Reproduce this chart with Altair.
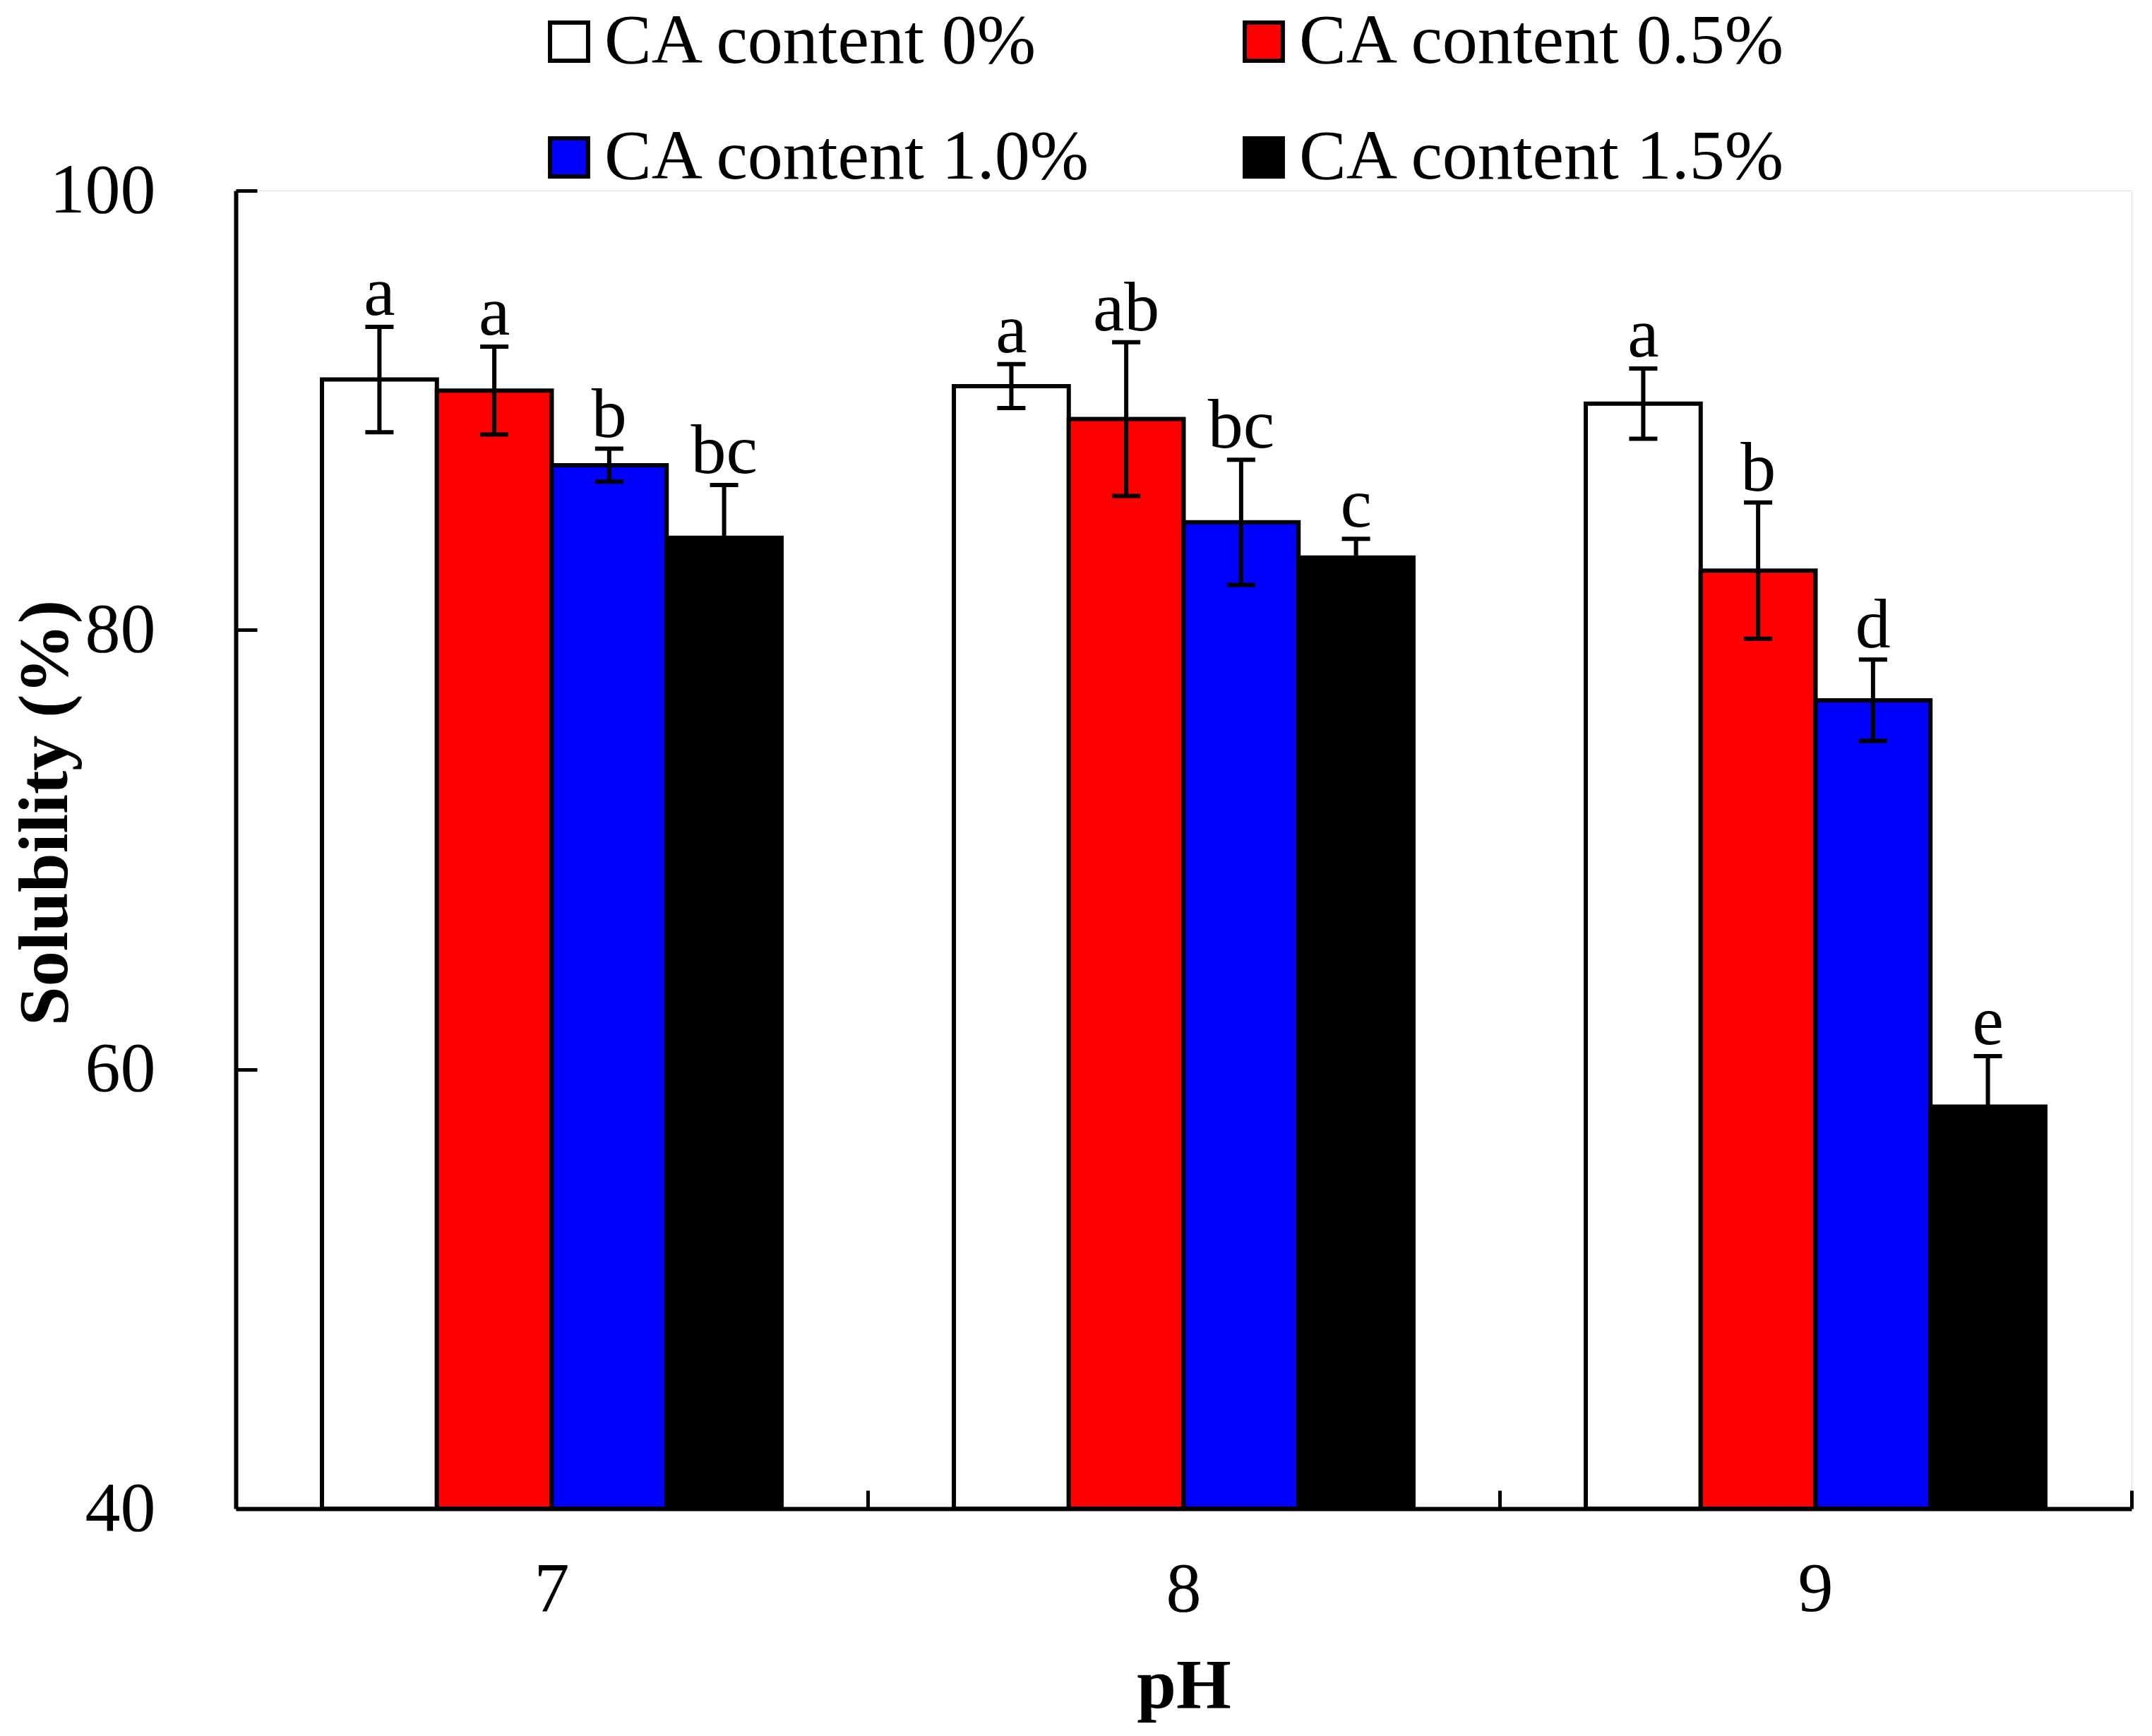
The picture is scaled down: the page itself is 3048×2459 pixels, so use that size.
import altair as alt
import pandas as pd

# data
ph_values = ["7", "8", "9"]
groups = ["CA content 0%", "CA content 0.5%", "CA content 1.0%", "CA content 1.5%"]
bar_colors = ["#ffffff", "#ff0000", "#0000ff", "#000000"]

mean_0 = [91.4, 91.1, 90.3]
mean_05 = [90.9, 89.6, 82.7]
mean_10 = [87.5, 84.9, 76.8]
mean_15 = [84.2, 83.3, 58.3]

sd_0 = [2.4, 1.0, 1.6]
sd_05 = [2.0, 3.5, 3.1]
sd_10 = [0.75, 2.85, 1.85]
sd_15 = [2.4, 0.85, 2.3]

letters_0 = ["a", "a", "a"]
letters_05 = ["a", "ab", "b"]
letters_10 = ["b", "bc", "d"]
letters_15 = ["bc", "c", "e"]

y_ticks = [40, 60, 80, 100]

means = [mean_0, mean_05, mean_10, mean_15]
sds = [sd_0, sd_05, sd_10, sd_15]
letters = [letters_0, letters_05, letters_10, letters_15]

rows = []
for g, m, s, l in zip(groups, means, sds, letters):
    for ph, mv, sv, lv in zip(ph_values, m, s, l):
        rows.append({"pH": ph, "group": g, "mean": mv, "sd": sv, "letter": lv,
                     "lo": mv - sv, "hi": mv + sv})
df = pd.DataFrame(rows)

W, H = 2685, 1867
FONT = "Liberation Serif"

x_scale = alt.Scale(paddingInner=0, paddingOuter=0)
off_scale = alt.Scale(paddingInner=0, paddingOuter=0.75)
y_scale = alt.Scale(domain=[40, 100], zero=False, nice=False)

base = alt.Chart(df)

bars = base.mark_bar(stroke="black", strokeWidth=6).encode(
    x=alt.X("pH:N", sort=ph_values, scale=x_scale,
            axis=alt.Axis(orient="bottom", ticks=False, tickSize=0, domainWidth=6,
                          domainColor="black", labelFont=FONT, labelFontSize=100,
                          labelColor="black", labelAngle=0, labelPadding=65,
                          title="pH", titleFont=FONT, titleFontSize=100,
                          titleFontWeight="bold", titleColor="black",
                          titleBaseline="alphabetic", titleY=281)),
    xOffset=alt.XOffset("group:N", sort=groups, scale=off_scale),
    y=alt.Y("mean:Q", scale=y_scale,
            axis=alt.Axis(orient="left", values=y_ticks, ticks=False, tickSize=0,
                          grid=False, domainWidth=6, domainColor="black",
                          labelFont=FONT, labelFontSize=100, labelColor="black",
                          labelPadding=114, title="Solubility (%)", titleFont=FONT,
                          titleFontSize=100, titleFontWeight="bold",
                          titleColor="black", titleBaseline="alphabetic",
                          titleAlign="center", titleX=-240, titleY=881)),
    y2=alt.datum(40),
    color=alt.Color("group:N", sort=groups,
                    scale=alt.Scale(domain=groups, range=bar_colors),
                    legend=alt.Legend(title=None, orient="none", legendX=422,
                                      legendY=-261, columns=2, direction="horizontal",
                                      columnPadding=192, rowPadding=64,
                                      symbolType="square", symbolSize=2900,
                                      symbolStrokeColor="black",
                                      symbolStrokeWidth=6, symbolOpacity=1,
                                      labelFont=FONT, labelFontSize=100,
                                      labelColor="black", labelOffset=0,
                                      labelLimit=1000, padding=0)),
)

err = base.mark_rule(color="black", strokeWidth=6).encode(
    x=alt.X("pH:N", sort=ph_values, scale=x_scale,
            axis=alt.Axis(orient="top", offset=-H, ticks=True, tickSize=26,
                          tickWidth=5, tickColor="black", bandPosition=1,
                          labels=False, domain=False, title=None)),
    xOffset=alt.XOffset("group:N", sort=groups, scale=off_scale),
    y=alt.Y("lo:Q", scale=y_scale,
            axis=alt.Axis(orient="right", offset=-W, values=y_ticks, ticks=True,
                          tickSize=30, tickWidth=5, tickColor="black",
                          labels=False, domain=False, grid=False, title=None)),
    y2="hi:Q",
)

cap_hi = base.mark_tick(color="black", thickness=6, size=40, opacity=1).encode(
    x=alt.X("pH:N", sort=ph_values, scale=x_scale, axis=None),
    xOffset=alt.XOffset("group:N", sort=groups, scale=off_scale),
    y=alt.Y("hi:Q", scale=y_scale, axis=None),
)

cap_lo = base.mark_tick(color="black", thickness=6, size=40, opacity=1).encode(
    x=alt.X("pH:N", sort=ph_values, scale=x_scale, axis=None),
    xOffset=alt.XOffset("group:N", sort=groups, scale=off_scale),
    y=alt.Y("lo:Q", scale=y_scale, axis=None),
)

labels = base.mark_text(font=FONT, fontSize=100, color="black",
                        baseline="alphabetic", dy=-17).encode(
    x=alt.X("pH:N", sort=ph_values, scale=x_scale, axis=None),
    xOffset=alt.XOffset("group:N", sort=groups, scale=off_scale),
    y=alt.Y("hi:Q", scale=y_scale, axis=None),
    text="letter:N",
)

chart = alt.layer(bars, err, cap_hi, cap_lo, labels).resolve_axis(
    x="independent", y="independent"
).properties(
    width=W,
    height=H,
    autosize=alt.AutoSizeParams(type="none"),
    padding={"left": 326, "top": 262, "right": 21, "bottom": 314},
).configure_view(
    strokeWidth=0
).configure(
    background="white"
)

chart.save("out.html", embed_options={"renderer": "svg", "actions": False})
